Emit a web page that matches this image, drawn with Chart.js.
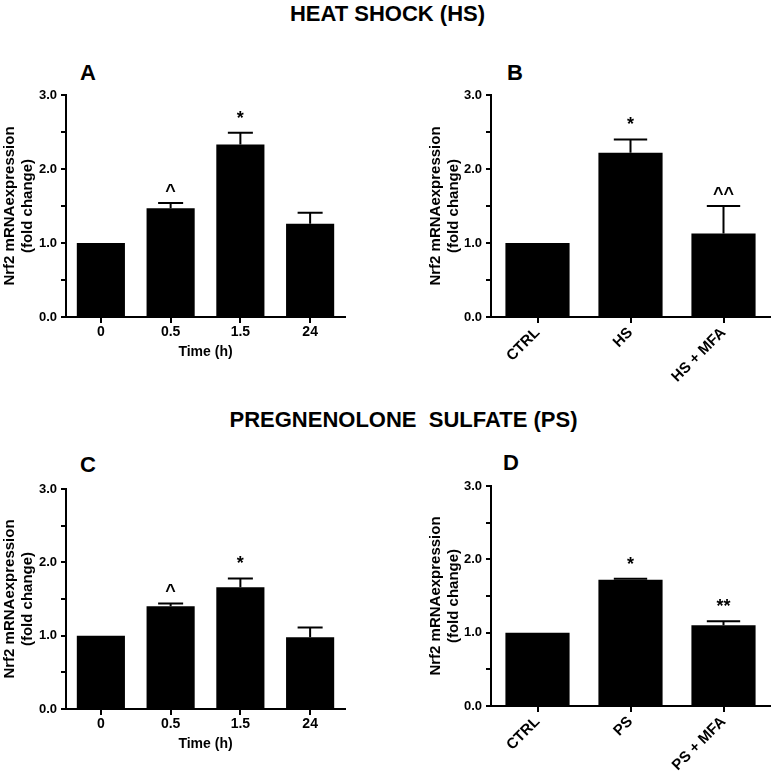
<!DOCTYPE html>
<html>
<head>
<meta charset="utf-8">
<script src="https://cdn.jsdelivr.net/npm/chart.js@4"></script>
<style>
  html, body { margin: 0; padding: 0; background: #fff; }
  #page { position: relative; width: 773px; height: 773px; overflow: hidden; font-family: 'Liberation Sans', Arial, sans-serif; color: #000; }
  #page canvas { position: absolute; }
  .head { position: absolute; left: 0; width: 773px; text-align: center; font-weight: bold; font-size: 22px; line-height: 22px; white-space: pre; }
  .tag { position: absolute; font-weight: bold; font-size: 22px; line-height: 22px; }
</style>
</head>
<body>
<div id="page">
  <div class="head" style="top:3px;left:1px">HEAT SHOCK (HS)</div>
  <div class="head" style="top:409px;left:17px">PREGNENOLONE  SULFATE (PS)</div>
  <div class="tag" style="left:80px;top:62px">A</div>
  <div class="tag" style="left:507px;top:62px">B</div>
  <div class="tag" style="left:80px;top:454px">C</div>
  <div class="tag" style="left:503px;top:452px">D</div>
  <canvas id="chartA" width="390" height="330" style="left:0;top:60px"></canvas>
  <canvas id="chartB" width="383" height="330" style="left:390px;top:60px"></canvas>
  <canvas id="chartC" width="390" height="373" style="left:0;top:400px"></canvas>
  <canvas id="chartD" width="383" height="373" style="left:390px;top:400px"></canvas>
</div>
<script>
// values (fold change, mean + upper SEM)
const timeLabels = ['0', '0.5', '1.5', '24'];
const hsLabels = ['CTRL', 'HS', 'HS + MFA'];
const psLabels = ['CTRL', 'PS', 'PS + MFA'];

const hsTimeMean = [1.0, 1.47, 2.33, 1.26];
const hsTimeErr = [0, 0.07, 0.16, 0.15];
const hsTimeMarks = ['', '^', '*', ''];

const hsTreatMean = [1.0, 2.22, 1.13];
const hsTreatErr = [0, 0.18, 0.37];
const hsTreatMarks = ['', '*', '^^'];

const psTimeMean = [1.0, 1.40, 1.66, 0.98];
const psTimeErr = [0, 0.04, 0.12, 0.13];
const psTimeMarks = ['', '^', '*', ''];

const psTreatMean = [1.0, 1.72, 1.10];
const psTreatErr = [0, 0.015, 0.055];
const psTreatMarks = ['', '*', '**'];

const yTickValues = [0, 1, 2, 3];
const yTitle = ['Nrf2 mRNAexpression', '(fold change)'];
const xTitleTime = 'Time (h)';

const FONT = "'Liberation Sans', Arial, sans-serif";
Chart.defaults.font.family = FONT;
Chart.defaults.color = '#000';

// error bars (upper only) + significance marks
const errorBars = {
  id: 'errorBars',
  afterDatasetsDraw(chart, args, opts) {
    const ctx = chart.ctx, y = chart.scales.y;
    const meta = chart.getDatasetMeta(0);
    ctx.save();
    ctx.strokeStyle = '#000'; ctx.fillStyle = '#000'; ctx.lineWidth = 2;
    meta.data.forEach((bar, i) => {
      const err = opts.err[i];
      const top = y.getPixelForValue(opts.mean[i] + err);
      if (err > 0) {
        const half = bar.width * 0.26;
        ctx.beginPath();
        ctx.moveTo(bar.x, bar.y); ctx.lineTo(bar.x, top);
        ctx.moveTo(bar.x - half, top); ctx.lineTo(bar.x + half, top);
        ctx.stroke();
      }
      const mark = opts.marks[i];
      if (mark) {
        ctx.font = 'bold 18px ' + FONT;
        ctx.textAlign = 'center'; ctx.textBaseline = 'alphabetic';
        ctx.fillText(mark, bar.x, top - (mark[0] === '*' ? 9 : 6));
      }
    });
    ctx.restore();
  }
};

function makePanel(id, labels, mean, err, marks, geo, xTitle, rot){
  return new Chart(document.getElementById(id), {
    type: 'bar',
    data: { labels: labels, datasets: [{ data: mean, backgroundColor: '#000', borderWidth: 0, barPercentage: 0.69, categoryPercentage: 1 }] },
    options: {
      responsive: false, animation: false, devicePixelRatio: 1,
      layout: { padding: { left: geo.padLeft, top: geo.padTop, right: geo.padRight, bottom: geo.padBottom } },
      plugins: { legend: { display: false }, tooltip: { enabled: false }, errorBars: { mean: mean, err: err, marks: marks } },
      scales: {
        x: {
          grid: { drawOnChartArea: false, offset: false, tickLength: 6, color: '#000', lineWidth: 2 },
          border: { color: '#000', width: 2 },
          ticks: { color: '#000', font: { size: rot ? 15 : 14, weight: 'bold' }, padding: 1, maxRotation: rot, minRotation: rot, autoSkip: false },
          title: { display: !!xTitle, text: xTitle || '', color: '#000', font: { size: 14, weight: 'bold' }, padding: 0 },
          afterFit: s => { s.height = geo.xHeight; }
        },
        y: {
          min: 0, max: 3,
          grid: { drawOnChartArea: false, tickLength: 5, color: '#000', lineWidth: 2 },
          border: { color: '#000', width: 2 },
          ticks: { stepSize: 0.5, color: '#000', font: { size: 13, weight: 'bold' }, padding: 4,
            callback: v => yTickValues.includes(v) ? v.toFixed(1) : '' },
          title: { display: true, text: yTitle, color: '#000', font: { size: 15, weight: 'bold', lineHeight: 1.2 }, padding: { top: 1, bottom: 0 } },
          afterFit: s => { s.width = geo.yWidth; }
        }
      }
    },
    plugins: [errorBars]
  });
}

makePanel('chartA', timeLabels, hsTimeMean, hsTimeErr, hsTimeMarks,
  { padLeft: 0, padTop: 35, padRight: 45, padBottom: 29, yWidth: 66, xHeight: 44 }, xTitleTime, 0);
makePanel('chartB', hsLabels, hsTreatMean, hsTreatErr, hsTreatMarks,
  { padLeft: 36, padTop: 35, padRight: 3, padBottom: 3, yWidth: 65, xHeight: 70 }, null, 45);
makePanel('chartC', timeLabels, psTimeMean, psTimeErr, psTimeMarks,
  { padLeft: 0, padTop: 89, padRight: 45, padBottom: 20, yWidth: 66, xHeight: 44 }, xTitleTime, 0);
makePanel('chartD', psLabels, psTreatMean, psTreatErr, psTreatMarks,
  { padLeft: 36, padTop: 86, padRight: 3, padBottom: 0, yWidth: 65, xHeight: 67 }, null, 45);
</script>
</body>
</html>
